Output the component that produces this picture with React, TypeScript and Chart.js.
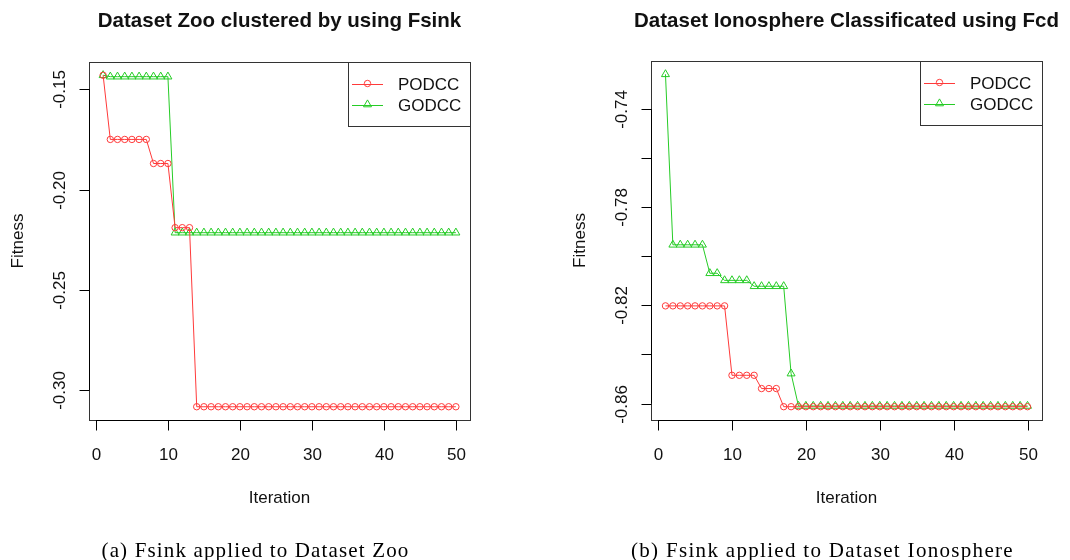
import React, { useEffect, useRef } from "react";
import { Chart, registerables } from "chart.js";

Chart.register(...registerables);

// ---------------- data ----------------
const iterations = [
  1, 2, 3, 4, 5, 6, 7, 8, 9, 10, 11, 12, 13, 14, 15, 16, 17, 18, 19, 20, 21, 22, 23, 24, 25,
  26, 27, 28, 29, 30, 31, 32, 33, 34, 35, 36, 37, 38, 39, 40, 41, 42, 43, 44, 45, 46, 47, 48, 49, 50,
];

const zooPODCC = [
  -0.143, -0.175, -0.175, -0.175, -0.175, -0.175, -0.175, -0.187, -0.187, -0.187,
  -0.219, -0.219, -0.219, -0.3083, -0.3083, -0.3083, -0.3083, -0.3083, -0.3083, -0.3083,
  -0.3083, -0.3083, -0.3083, -0.3083, -0.3083, -0.3083, -0.3083, -0.3083, -0.3083, -0.3083,
  -0.3083, -0.3083, -0.3083, -0.3083, -0.3083, -0.3083, -0.3083, -0.3083, -0.3083, -0.3083,
  -0.3083, -0.3083, -0.3083, -0.3083, -0.3083, -0.3083, -0.3083, -0.3083, -0.3083, -0.3083,
];

const zooGODCC = [
  -0.143, -0.1437, -0.1437, -0.1437, -0.1437, -0.1437, -0.1437, -0.1437, -0.1437, -0.1437,
  -0.2215, -0.2215, -0.2215, -0.2215, -0.2215, -0.2215, -0.2215, -0.2215, -0.2215, -0.2215,
  -0.2215, -0.2215, -0.2215, -0.2215, -0.2215, -0.2215, -0.2215, -0.2215, -0.2215, -0.2215,
  -0.2215, -0.2215, -0.2215, -0.2215, -0.2215, -0.2215, -0.2215, -0.2215, -0.2215, -0.2215,
  -0.2215, -0.2215, -0.2215, -0.2215, -0.2215, -0.2215, -0.2215, -0.2215, -0.2215, -0.2215,
];

const ionoPODCC = [
  -0.8202, -0.8202, -0.8202, -0.8202, -0.8202, -0.8202, -0.8202, -0.8202, -0.8202, -0.8485,
  -0.8485, -0.8485, -0.8485, -0.8539, -0.8539, -0.8539, -0.8613, -0.8613, -0.8613, -0.8613,
  -0.8613, -0.8613, -0.8613, -0.8613, -0.8613, -0.8613, -0.8613, -0.8613, -0.8613, -0.8613,
  -0.8613, -0.8613, -0.8613, -0.8613, -0.8613, -0.8613, -0.8613, -0.8613, -0.8613, -0.8613,
  -0.8613, -0.8613, -0.8613, -0.8613, -0.8613, -0.8613, -0.8613, -0.8613, -0.8613, -0.8613,
];

const ionoGODCC = [
  -0.7258, -0.7953, -0.7953, -0.7953, -0.7953, -0.7953, -0.8069, -0.8069, -0.8098, -0.8098,
  -0.8098, -0.8098, -0.8122, -0.8122, -0.8122, -0.8122, -0.8122, -0.8478, -0.861, -0.861,
  -0.861, -0.861, -0.861, -0.861, -0.861, -0.861, -0.861, -0.861, -0.861, -0.861,
  -0.861, -0.861, -0.861, -0.861, -0.861, -0.861, -0.861, -0.861, -0.861, -0.861,
  -0.861, -0.861, -0.861, -0.861, -0.861, -0.861, -0.861, -0.861, -0.861, -0.861,
];

const seriesNames = ["PODCC", "GODCC"];
const xTicks = [0, 10, 20, 30, 40, 50];
const zooYTicks = [-0.15, -0.2, -0.25, -0.3];
const zooYLabels = ["-0.15", "-0.20", "-0.25", "-0.30"];
const ionoYTicks = [-0.74, -0.76, -0.78, -0.8, -0.82, -0.84, -0.86];
const ionoYLabels = ["-0.74", "", "-0.78", "", "-0.82", "", "-0.86"];

const titles = ["Dataset Zoo clustered by using Fsink", "Dataset Ionosphere Classificated using Fcd"];
const captions = ["(a) Fsink applied to Dataset Zoo", "(b) Fsink applied to Dataset Ionosphere"];
const xLabel = "Iteration";
const yLabel = "Fitness";

// ---------------- styles ----------------
const RED = "#ff3a3a";
const GREEN = "#26cc26";
const SANS = "'Liberation Sans', Arial, sans-serif";
const SERIF = "'Liberation Serif', 'Times New Roman', serif";
const W = 535;
const H = 560;

type Panel = {
  title: string;
  caption: string;
  pod: number[];
  god: number[];
  yTicks: number[];
  yLabels: string[];
  padding: { left: number; right: number; top: number; bottom: number };
  captionWidth: number;
};

const panels: Panel[] = [
  {
    title: titles[0],
    caption: captions[0],
    pod: zooPODCC,
    god: zooGODCC,
    yTicks: zooYTicks,
    yLabels: zooYLabels,
    padding: { left: 89, right: W - 470, top: 62, bottom: H - 420 },
    captionWidth: 308,
  },
  {
    title: titles[1],
    caption: captions[1],
    pod: ionoPODCC,
    god: ionoGODCC,
    yTicks: ionoYTicks,
    yLabels: ionoYLabels,
    padding: { left: 651 - W, right: 2 * W - 1042, top: 61, bottom: H - 420 },
    captionWidth: 383,
  },
];

function drawMarker(ctx: CanvasRenderingContext2D, kind: string, x: number, y: number, color: string) {
  ctx.strokeStyle = color;
  ctx.lineWidth = 1;
  ctx.beginPath();
  if (kind === "circle") {
    ctx.arc(x, y, 3.2, 0, Math.PI * 2);
  } else {
    const r = 4.6;
    ctx.moveTo(x, y - r);
    ctx.lineTo(x + r * Math.sin(Math.PI / 3), y + r / 2);
    ctx.lineTo(x - r * Math.sin(Math.PI / 3), y + r / 2);
    ctx.closePath();
  }
  ctx.stroke();
}

function makePlugin(p: Panel) {
  return {
    id: "rstyle",
    afterDraw(chart: any) {
      const ctx: CanvasRenderingContext2D = chart.ctx;
      const ca = chart.chartArea;
      const xs = chart.scales.x;
      const ys = chart.scales.y;
      const cx = (ca.left + ca.right) / 2;
      const cy = (ca.top + ca.bottom) / 2;
      ctx.save();

      // plot box
      ctx.strokeStyle = "#333";
      ctx.lineWidth = 1;
      ctx.strokeRect(Math.round(ca.left) + 0.5, Math.round(ca.top) + 0.5, Math.round(ca.right - ca.left), Math.round(ca.bottom - ca.top));

      // x axis
      ctx.strokeStyle = "#000";
      ctx.fillStyle = "#111";
      const bY = Math.round(ca.bottom) + 0.5;
      const x0 = xs.getPixelForValue(xTicks[0]);
      const x1 = xs.getPixelForValue(xTicks[xTicks.length - 1]);
      ctx.beginPath();
      ctx.moveTo(x0, bY);
      ctx.lineTo(x1, bY);
      ctx.stroke();
      ctx.font = `17px ${SANS}`;
      ctx.textAlign = "center";
      ctx.textBaseline = "alphabetic";
      xTicks.forEach((t) => {
        const px = Math.round(xs.getPixelForValue(t)) + 0.5;
        ctx.beginPath();
        ctx.moveTo(px, bY);
        ctx.lineTo(px, bY + 10);
        ctx.stroke();
        ctx.fillText(String(t), px, ca.bottom + 39.5);
      });

      // y axis
      const lX = Math.round(ca.left) + 0.5;
      ctx.beginPath();
      ctx.moveTo(lX, ys.getPixelForValue(p.yTicks[0]));
      ctx.lineTo(lX, ys.getPixelForValue(p.yTicks[p.yTicks.length - 1]));
      ctx.stroke();
      p.yTicks.forEach((t, i) => {
        const py = Math.round(ys.getPixelForValue(t)) + 0.5;
        ctx.beginPath();
        ctx.moveTo(lX, py);
        ctx.lineTo(lX - 10, py);
        ctx.stroke();
        const lab = p.yLabels[i];
        if (lab) {
          ctx.save();
          ctx.translate(ca.left - 24, py);
          ctx.rotate(-Math.PI / 2);
          ctx.textAlign = "center";
          ctx.fillText(lab, 0, 0);
          ctx.restore();
        }
      });

      // axis titles
      ctx.fillText(xLabel, cx, ca.bottom + 83);
      ctx.save();
      ctx.translate(ca.left - 66, cy);
      ctx.rotate(-Math.PI / 2);
      ctx.textAlign = "center";
      ctx.fillText(yLabel, 0, 0);
      ctx.restore();

      // main title
      ctx.font = `bold 20.5px ${SANS}`;
      ctx.fillStyle = "#111";
      ctx.textAlign = "center";
      ctx.fillText(p.title, cx, 27);

      // legend
      const lw = 122;
      const lh = 64;
      const lx = Math.round(ca.right - lw);
      const ly = Math.round(ca.top);
      ctx.fillStyle = "#fff";
      ctx.fillRect(lx, ly, lw, lh);
      ctx.strokeStyle = "#333";
      ctx.strokeRect(lx + 0.5, ly + 0.5, lw, lh);
      const colors = [RED, GREEN];
      const kinds = ["circle", "triangle"];
      ctx.font = `17px ${SANS}`;
      ctx.textAlign = "left";
      seriesNames.forEach((name, i) => {
        const ry = ly + 21.5 + i * 21;
        ctx.strokeStyle = colors[i];
        ctx.lineWidth = 1;
        ctx.beginPath();
        ctx.moveTo(lx + 4, Math.round(ry) + 0.5);
        ctx.lineTo(lx + 35, Math.round(ry) + 0.5);
        ctx.stroke();
        drawMarker(ctx, kinds[i], lx + 19.5, ry, colors[i]);
        ctx.fillStyle = "#111";
        ctx.fillText(name, lx + 50, ry + 6.5);
      });

      // caption (serif, stretched to the reference width)
      ctx.font = `21px ${SERIF}`;
      ctx.fillStyle = "#000";
      const w0 = ctx.measureText(p.caption).width;
      const sp = (p.captionWidth - w0) / p.caption.length;
      (ctx as any).letterSpacing = `${sp}px`;
      ctx.textAlign = "left";
      ctx.fillText(p.caption, cx - 24 - p.captionWidth / 2, 556.5);
      (ctx as any).letterSpacing = "0px";

      ctx.restore();
    },
  };
}

function yRange(a: number[], b: number[]) {
  const all = a.concat(b);
  const lo = Math.min(...all);
  const hi = Math.max(...all);
  const pad = (hi - lo) * 0.04;
  return { min: lo - pad, max: hi + pad };
}

function PanelChart({ p }: { p: Panel }) {
  const ref = useRef<HTMLCanvasElement | null>(null);
  useEffect(() => {
    if (!ref.current) return;
    const yr = yRange(p.pod, p.god);
    const xLo = iterations[0];
    const xHi = iterations[iterations.length - 1];
    const xPad = (xHi - xLo) * 0.04;
    const chart = new Chart(ref.current, {
      type: "line",
      data: {
        datasets: [
          {
            label: seriesNames[0],
            data: iterations.map((x, i) => ({ x, y: p.pod[i] })),
            borderColor: RED,
            borderWidth: 1,
            pointStyle: "circle",
            pointRadius: 3.2,
            pointBorderColor: RED,
            pointBackgroundColor: "rgba(0,0,0,0)",
            pointBorderWidth: 1,
            tension: 0,
            fill: false,
          },
          {
            label: seriesNames[1],
            data: iterations.map((x, i) => ({ x, y: p.god[i] })),
            borderColor: GREEN,
            borderWidth: 1,
            pointStyle: "triangle",
            pointRadius: 4.6,
            pointBorderColor: GREEN,
            pointBackgroundColor: "rgba(0,0,0,0)",
            pointBorderWidth: 1,
            tension: 0,
            fill: false,
          },
        ],
      },
      options: {
        responsive: false,
        animation: false,
        devicePixelRatio: 1,
        layout: { padding: p.padding },
        plugins: { legend: { display: false }, title: { display: false }, tooltip: { enabled: false } },
        scales: {
          x: { type: "linear", display: false, min: xLo - xPad, max: xHi + xPad },
          y: { type: "linear", display: false, min: yr.min, max: yr.max },
        },
      },
      plugins: [makePlugin(p)],
    } as any);
    return () => chart.destroy();
  }, [p]);
  return <canvas ref={ref} width={W} height={H} style={{ display: "block", width: W, height: H }} />;
}

export default function App() {
  useEffect(() => {
    document.body.style.margin = "0";
    document.body.style.background = "#fff";
  }, []);
  return (
    <div style={{ position: "relative", width: 2 * W, height: H, display: "flex", background: "#fff" }}>
      {panels.map((p, i) => (
        <PanelChart key={i} p={p} />
      ))}
    </div>
  );
}
